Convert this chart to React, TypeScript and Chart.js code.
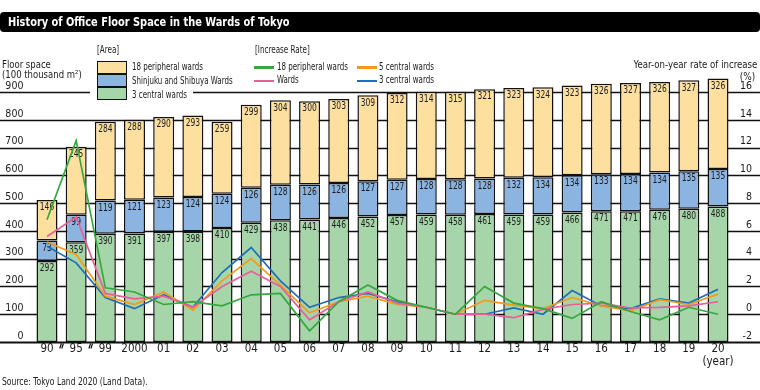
import React, { useEffect, useRef } from "react";
import { Chart, registerables } from "chart.js";

Chart.register(...registerables);

const categories = ["90", "95", "99", "2000", "01", "02", "03", "04", "05", "06", "07", "08", "09", "10", "11", "12", "13", "14", "15", "16", "17", "18", "19", "20"];
const central3Area = [292, 359, 390, 391, 397, 398, 410, 429, 438, 441, 446, 452, 457, 459, 458, 461, 459, 459, 466, 471, 471, 476, 480, 488];
const shinjukuShibuyaArea = [73, 99, 119, 121, 123, 124, 124, 126, 128, 126, 126, 127, 127, 128, 128, 128, 132, 134, 134, 133, 134, 134, 135, 135];
const peripheral18Area = [146, 245, 284, 288, 290, 293, 259, 299, 304, 300, 303, 309, 312, 314, 315, 321, 323, 324, 323, 326, 327, 326, 327, 326];

const peripheral18Rate = [6.8, 12.5, 1.9, 1.6, 0.7, 0.9, 0.6, 1.4, 1.5, -1.2, 0.9, 2.1, 1.0, 0.5, 0.0, 2.0, 0.8, 0.4, -0.3, 0.9, 0.2, -0.4, 0.5, 0.0];
const wardsRate = [5.6, 7.0, 1.5, 1.1, 1.3, 0.5, 2.0, 3.1, 2.0, -0.4, 0.9, 1.6, 0.8, 0.5, 0.0, 0.0, -0.25, 0.35, 0.7, 0.8, 0.45, 0.5, 0.6, 0.9];
const central5Rate = [5.2, 4.3, 1.3, 0.7, 1.6, 0.3, 2.4, 4.0, 2.1, 0.1, 0.9, 1.3, 0.7, 0.5, 0.0, 1.0, 0.65, 0.4, 1.2, 0.6, 0.25, 1.05, 0.7, 1.45];
const central3Rate = [4.9, 3.7, 1.2, 0.4, 1.4, 0.5, 3.0, 4.8, 2.4, 0.5, 1.2, 1.5, 0.9, 0.5, 0.0, 0.0, 0.45, 0.0, 1.7, 0.6, 0.4, 1.1, 0.8, 1.8];

const areaTicks = [0, 100, 200, 300, 400, 500, 600, 700, 800, 900];
const rateTicks = [-2, 0, 2, 4, 6, 8, 10, 12, 14, 16];

const FONT = '"DejaVu Sans Condensed", "Liberation Sans", sans-serif';
const TEXT = "#1a1a1a";
const C = {
  yellow: "#fddf9f",
  blue: "#8cb4e1",
  green: "#a7d5aa",
  lGreen: "#33a83c",
  lPink: "#e8609a",
  lOrange: "#f39a1a",
  lBlue: "#1f6eb8",
};

const fullGridPlugin = {
  id: "fullGrid",
  beforeDatasetsDraw(chart: any) {
    const y = chart.scales.y;
    const ctx = chart.ctx;
    ctx.save();
    ctx.strokeStyle = "#111";
    areaTicks.forEach((v) => {
      const py = Math.round(y.getPixelForValue(v)) + 0.5;
      ctx.lineWidth = v === 0 ? 2 : 1.3;
      ctx.beginPath();
      ctx.moveTo(0, py);
      ctx.lineTo(chart.width, py);
      ctx.stroke();
    });
    ctx.restore();
  },
};

const barLabelPlugin = {
  id: "barLabels",
  afterDatasetDraw(chart: any, args: any) {
    const meta = args.meta;
    if (meta.type !== "bar") return;
    const ds = chart.data.datasets[args.index];
    const ctx = chart.ctx;
    meta.data.forEach((el: any, i: number) => {
      const top = Math.min(el.y, el.base);
      ctx.save();
      ctx.font = `10.5px ${FONT}`;
      ctx.fillStyle = TEXT;
      ctx.textAlign = "center";
      ctx.textBaseline = "middle";
      ctx.translate(el.x, top + 7.5);
      ctx.scale(0.8, 1);
      ctx.fillText(String(ds.data[i]), 0, 0);
      ctx.restore();
    });
  },
};

const breakPlugin = {
  id: "axisBreaks",
  afterDraw(chart: any) {
    const x = chart.scales.x;
    const yb = chart.scales.y.getPixelForValue(0);
    const ctx = chart.ctx;
    ctx.save();
    ctx.strokeStyle = "#111";
    ctx.lineWidth = 1.2;
    [0, 1].forEach((i) => {
      const mx = (x.getPixelForValue(i) + x.getPixelForValue(i + 1)) / 2;
      [-1, 1].forEach((dx) => {
        ctx.beginPath();
        ctx.moveTo(mx + dx - 0.8, yb + 6.5);
        ctx.lineTo(mx + dx + 0.8, yb + 1.5);
        ctx.stroke();
      });
    });
    ctx.restore();
  },
};

const abs = (o: React.CSSProperties): React.CSSProperties => ({ position: "absolute", whiteSpace: "nowrap", ...o });
const sx = (k: number, origin = "left center"): React.CSSProperties => ({ transform: `scaleX(${k})`, transformOrigin: origin });

export default function App() {
  const ref = useRef<HTMLCanvasElement>(null);

  useEffect(() => {
    if (!ref.current) return;
    const lineDs = (label: string, data: number[], color: string) => ({
      type: "line" as const,
      label,
      data,
      yAxisID: "y1",
      borderColor: color,
      backgroundColor: color,
      borderWidth: 1.7,
      pointRadius: 0,
      tension: 0,
      fill: false,
      order: 1,
    });
    const barDs = (label: string, data: number[], color: string) => ({
      type: "bar" as const,
      label,
      data,
      yAxisID: "y",
      stack: "area",
      backgroundColor: color,
      borderColor: "#111",
      borderWidth: 1.5,
      borderSkipped: false,
      categoryPercentage: 1,
      barPercentage: 0.72,
      order: 2,
    });
    const chart = new Chart(ref.current, {
      type: "bar",
      data: {
        labels: categories.map((c, i) => (i === categories.length - 1 ? [c, "(year)"] : c)),
        datasets: [
          lineDs("18 peripheral wards", peripheral18Rate, C.lGreen),
          lineDs("Wards", wardsRate, C.lPink),
          lineDs("5 central wards", central5Rate, C.lOrange),
          lineDs("3 central wards", central3Rate, C.lBlue),
          barDs("3 central wards", central3Area, C.green),
          barDs("Shinjuku and Shibuya Wards", shinjukuShibuyaArea, C.blue),
          barDs("18 peripheral wards", peripheral18Area, C.yellow),
        ] as any,
      },
      options: {
        animation: false,
        responsive: false,
        layout: { padding: { top: 75.33, right: 8, left: 0, bottom: 0 } },
        plugins: { legend: { display: false }, tooltip: { enabled: false } },
        scales: {
          x: {
            stacked: true,
            grid: { display: false, drawTicks: false },
            border: { display: false },
            ticks: {
              font: { family: FONT, size: 11.5, lineHeight: 1.1 },
              color: TEXT,
              padding: 1,
              maxRotation: 0,
              autoSkip: false,
            },
            afterFit: (s: any) => {
              s.height = 48;
            },
          },
          y: {
            stacked: true,
            position: "left",
            min: 0,
            max: 960,
            grid: { display: false, drawTicks: false },
            border: { display: false },
            afterBuildTicks: (s: any) => {
              s.ticks = areaTicks.map((v) => ({ value: v }));
            },
            ticks: { font: { family: FONT, size: 10.5 }, color: TEXT, padding: 9, labelOffset: -6 },
            afterFit: (s: any) => {
              s.width = 32.4;
            },
          },
          y1: {
            stacked: false,
            position: "right",
            min: -2,
            max: 17.2,
            grid: { display: false, drawTicks: false },
            border: { display: false },
            afterBuildTicks: (s: any) => {
              s.ticks = rateTicks.map((v) => ({ value: v }));
            },
            ticks: { font: { family: FONT, size: 10.5 }, color: TEXT, padding: 4, labelOffset: -6, crossAlign: "far" },
            afterFit: (s: any) => {
              s.width = 19.4;
            },
          },
        },
      } as any,
      plugins: [fullGridPlugin, barLabelPlugin, breakPlugin],
    });
    return () => chart.destroy();
  }, []);

  const legendText: React.CSSProperties = { fontFamily: FONT, fontSize: 10.5, color: TEXT, lineHeight: "12px" };
  const lg = (k = 0.75): React.CSSProperties => ({ ...legendText, ...sx(k) });
  const box = (top: number, color: string) => (
    <div style={abs({ left: 97, top, width: 30, height: 13, background: color, border: "1.5px solid #111", boxSizing: "border-box" })} />
  );
  const swatch = (left: number, top: number, color: string) => (
    <div style={abs({ left, top, width: 20, height: 2.6, background: color })} />
  );

  return (
    <div style={{ position: "absolute", left: 0, top: 0, width: 760, height: 390, background: "#fff", overflow: "hidden" }}>
      <canvas ref={ref} width={760} height={390} style={{ position: "absolute", left: 0, top: 0, display: "block" }} />
      <div
        style={abs({
          left: 0,
          top: 12,
          width: 760,
          height: 20,
          background: "#000",
          borderRadius: 4,
        })}
      />
      <div
        style={abs({
          left: 8,
          top: 12,
          height: 20,
          color: "#fff",
          fontFamily: FONT,
          fontWeight: "bold",
          fontSize: 13,
          lineHeight: "20px",
          ...sx(0.84),
        })}
      >
        History of Office Floor Space in the Wards of Tokyo
      </div>
      <div style={abs({ left: 2, top: 59.5, ...legendText, fontSize: 11, lineHeight: "10.5px", ...sx(0.86) })}>
        Floor space
        <br />
        (100 thousand m²)
      </div>
      <div style={abs({ left: 90, top: 42, width: 103, height: 59, background: "#fff" })} />
      <div style={abs({ left: 97, top: 44, ...lg(0.8), fontSize: 10 })}>[Area]</div>
      {box(60.5, C.yellow)}
      {box(73.5, C.blue)}
      {box(86.5, C.green)}
      <div style={abs({ left: 132, top: 60, ...lg() })}>18 peripheral wards</div>
      <div style={abs({ left: 132, top: 73.5, ...lg() })}>Shinjuku and Shibuya Wards</div>
      <div style={abs({ left: 132, top: 87.5, ...lg() })}>3 central wards</div>

      <div style={abs({ left: 255, top: 44, ...lg(0.8), fontSize: 10 })}>[Increase Rate]</div>
      {swatch(254, 66, C.lGreen)}
      {swatch(254, 79.5, C.lPink)}
      {swatch(357, 66, C.lOrange)}
      {swatch(357, 79.5, C.lBlue)}
      <div style={abs({ left: 277, top: 60, ...lg() })}>18 peripheral wards</div>
      <div style={abs({ left: 277, top: 73, ...lg() })}>Wards</div>
      <div style={abs({ left: 379, top: 60, ...lg() })}>5 central wards</div>
      <div style={abs({ left: 379, top: 73, ...lg() })}>3 central wards</div>

      <div style={abs({ right: 3, top: 59, ...legendText, fontSize: 11, ...sx(0.87, "right center") })}>Year-on-year rate of increase</div>
      <div style={abs({ right: 5, top: 70.5, ...legendText, fontSize: 11, ...sx(0.9, "right center") })}>(%)</div>

      <div style={abs({ left: 2, top: 376, ...legendText, fontSize: 10, ...sx(0.85) })}>Source: Tokyo Land 2020 (Land Data).</div>
    </div>
  );
}
